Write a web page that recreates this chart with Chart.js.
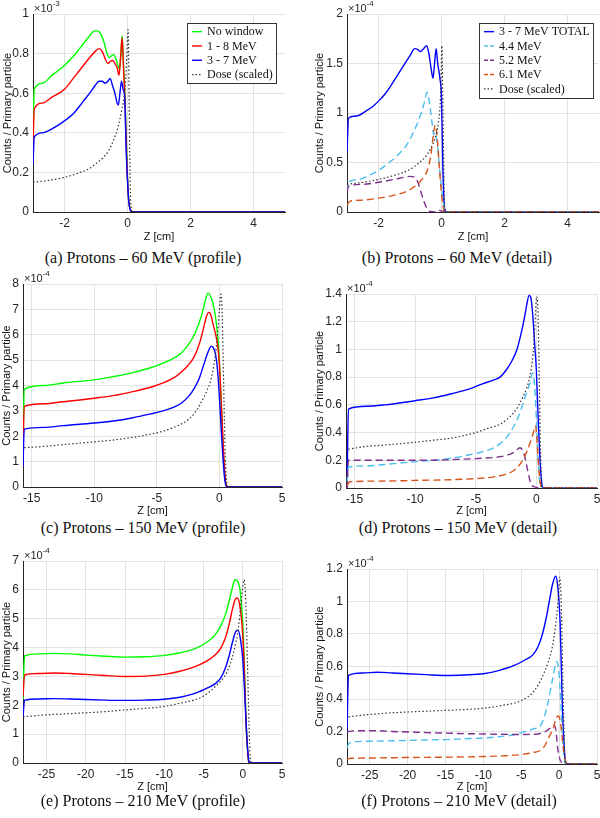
<!DOCTYPE html>
<html><head><meta charset="utf-8">
<script src="https://cdn.jsdelivr.net/npm/chart.js@4.4.1/dist/chart.umd.min.js"></script>
<style>
html,body{margin:0;padding:0;background:#fff;}
body{width:600px;height:818px;position:relative;overflow:hidden;}
canvas{position:absolute;}
.cap{position:absolute;font-family:'Liberation Serif','Times New Roman',serif;font-size:16px;color:#111;white-space:nowrap;transform:translate(-50%,-50%);}
</style></head><body>
<canvas id="ca"></canvas><canvas id="cb"></canvas>
<canvas id="cc"></canvas><canvas id="cd"></canvas>
<canvas id="ce"></canvas><canvas id="cf"></canvas>
<div class="cap" id="cap0" style="left:143px;top:258px"></div>
<div class="cap" id="cap1" style="left:457px;top:258px"></div>
<div class="cap" id="cap2" style="left:143px;top:528px"></div>
<div class="cap" id="cap3" style="left:458px;top:528px"></div>
<div class="cap" id="cap4" style="left:143px;top:801px"></div>
<div class="cap" id="cap5" style="left:459px;top:801px"></div>
<script>
// ---------- labels ----------
const profileLabels = ['No window', '1 - 8 MeV', '3 - 7 MeV', 'Dose (scaled)'];
const detailLabels = ['3 - 7 MeV TOTAL', '4.4 MeV', '5.2 MeV', '6.1 MeV', 'Dose (scaled)'];
const captions = ['(a) Protons – 60 MeV (profile)','(b) Protons – 60 MeV (detail)','(c) Protons – 150 MeV (profile)','(d) Protons – 150 MeV (detail)','(e) Protons – 210 MeV (profile)','(f) Protons – 210 MeV (detail)'];

// ---------- tick values ----------
const xTicks60 = [-2, 0, 2, 4];
const xTicks150 = [-15, -10, -5, 0, 5];
const xTicks210 = [-25, -20, -15, -10, -5, 0, 5];
const yTicksA = [0, 0.2, 0.4, 0.6, 0.8, 1];
const yTicksB = [0, 0.5, 1, 1.5, 2];
const yTicksC = [0, 1, 2, 3, 4, 5, 6, 7, 8];
const yTicksD = [0, 0.2, 0.4, 0.6, 0.8, 1, 1.2, 1.4];
const yTicksE = [0, 1, 2, 3, 4, 5, 6, 7];
const yTicksF = [0, 0.2, 0.4, 0.6, 0.8, 1, 1.2];

// ---------- (a) 60 MeV profile, x1e-3 ----------
const a_noWindow = [[-3,0.38],[-2.96,0.62],[-2.7,0.65],[-2.4,0.69],[-2,0.74],[-1.7,0.79],[-1.4,0.85],[-1.2,0.89],[-1.05,0.915],[-0.95,0.915],[-0.85,0.9],[-0.75,0.86],[-0.65,0.8],[-0.58,0.78],[-0.5,0.79],[-0.43,0.795],[-0.36,0.77],[-0.3,0.74],[-0.25,0.72],[-0.21,0.8],[-0.17,0.89],[-0.13,0.76],[-0.08,0.58],[-0.03,0.32],[0.02,0.1],[0.06,0.03],[0.12,0.005],[0.2,0],[5,0]];
const a_1to8 = [[-3,0.33],[-2.96,0.52],[-2.7,0.55],[-2.4,0.58],[-2,0.62],[-1.7,0.68],[-1.4,0.74],[-1.2,0.78],[-1.0,0.815],[-0.9,0.825],[-0.8,0.81],[-0.7,0.77],[-0.62,0.75],[-0.55,0.76],[-0.47,0.765],[-0.4,0.75],[-0.33,0.73],[-0.27,0.69],[-0.22,0.78],[-0.17,0.88],[-0.13,0.74],[-0.08,0.56],[-0.03,0.3],[0.02,0.1],[0.06,0.03],[0.12,0.005],[0.2,0],[5,0]];
const a_3to7 = [[-3,0.24],[-2.96,0.38],[-2.7,0.4],[-2.4,0.42],[-2,0.46],[-1.7,0.5],[-1.4,0.56],[-1.2,0.6],[-1.0,0.645],[-0.9,0.66],[-0.8,0.66],[-0.72,0.65],[-0.62,0.66],[-0.55,0.675],[-0.48,0.64],[-0.4,0.6],[-0.33,0.55],[-0.29,0.54],[-0.24,0.6],[-0.19,0.66],[-0.14,0.62],[-0.09,0.58],[-0.04,0.3],[0.02,0.1],[0.05,0.04],[0.1,0.005],[0.15,0],[5,0]];
const a_dose = [[-3,0.15],[-2.5,0.16],[-2,0.175],[-1.5,0.2],[-1.2,0.22],[-1.0,0.245],[-0.8,0.27],[-0.6,0.31],[-0.45,0.36],[-0.3,0.43],[-0.19,0.51],[-0.08,0.62],[-0.03,0.75],[0.0,0.88],[0.02,0.92],[0.05,0.6],[0.08,0.2],[0.11,0.03],[0.15,0],[5,0]];

// ---------- (b) 60 MeV detail, x1e-4 ----------
const b_total = [[-3,0.6],[-2.95,0.95],[-2.7,0.97],[-2.4,1.02],[-2.2,1.06],[-2,1.12],[-1.8,1.19],[-1.6,1.28],[-1.4,1.38],[-1.2,1.48],[-1.0,1.58],[-0.85,1.65],[-0.75,1.64],[-0.67,1.62],[-0.57,1.65],[-0.47,1.68],[-0.4,1.6],[-0.33,1.45],[-0.27,1.35],[-0.22,1.5],[-0.17,1.65],[-0.12,1.5],[-0.05,1.35],[0,1.15],[0.04,0.5],[0.08,0.1],[0.12,0.01],[0.2,0],[5,0]];
const b_44 = [[-3,0.2],[-2.95,0.3],[-2.6,0.33],[-2.3,0.37],[-2,0.42],[-1.7,0.49],[-1.4,0.57],[-1.1,0.68],[-0.9,0.8],[-0.7,0.95],[-0.55,1.1],[-0.46,1.21],[-0.38,1.1],[-0.3,0.9],[-0.25,0.78],[-0.2,0.8],[-0.12,0.65],[-0.05,0.4],[0.02,0.2],[0.08,0.05],[0.13,0],[5,0]];
const b_52 = [[-3,0.2],[-2.95,0.26],[-2.5,0.28],[-2,0.3],[-1.5,0.33],[-1.2,0.35],[-1.0,0.36],[-0.85,0.35],[-0.75,0.3],[-0.65,0.2],[-0.55,0.1],[-0.45,0.03],[-0.35,0.005],[-0.2,0.0],[-0.1,0.02],[0,0.01],[0.1,0],[5,0]];
const b_61 = [[-3,0.07],[-2.9,0.11],[-2.5,0.12],[-2,0.14],[-1.5,0.17],[-1.1,0.21],[-0.8,0.27],[-0.7,0.3],[-0.55,0.36],[-0.45,0.42],[-0.35,0.55],[-0.27,0.75],[-0.2,0.88],[-0.15,0.8],[-0.08,0.5],[-0.02,0.25],[0.04,0.08],[0.1,0],[5,0]];
const b_dose = [[-3,0.28],[-2.5,0.3],[-2,0.33],[-1.5,0.37],[-1.0,0.43],[-0.7,0.5],[-0.5,0.56],[-0.35,0.64],[-0.2,0.75],[-0.1,0.9],[-0.04,1.1],[-0.01,1.4],[0.01,1.68],[0.04,1.2],[0.07,0.5],[0.1,0.05],[0.14,0],[5,0]];

// ---------- (c) 150 MeV profile, x1e-4 ----------
const c_noWindow = [[-15.7,1.5],[-15.6,3.86],[-14,4.0],[-12.5,4.1],[-10,4.22],[-8.5,4.35],[-7,4.5],[-5.5,4.7],[-4.5,4.88],[-3.5,5.12],[-3,5.3],[-2.5,5.6],[-2,6.0],[-1.6,6.5],[-1.3,7.0],[-1.05,7.5],[-0.9,7.65],[-0.75,7.55],[-0.45,7.1],[-0.2,6.25],[-0.05,5.4],[0.1,3.8],[0.25,2.0],[0.4,0.6],[0.55,0.05],[0.65,0],[5,0]];
const c_1to8 = [[-15.7,1.5],[-15.6,3.18],[-14,3.28],[-12.5,3.36],[-10,3.5],[-8.5,3.6],[-7,3.75],[-5.5,3.93],[-4.5,4.1],[-3.5,4.35],[-3,4.55],[-2.5,4.8],[-2,5.15],[-1.6,5.65],[-1.3,6.2],[-1.05,6.7],[-0.85,6.88],[-0.7,6.8],[-0.5,6.4],[-0.3,6.0],[-0.15,5.6],[0,4.8],[0.15,3.3],[0.3,1.7],[0.45,0.4],[0.6,0.02],[0.7,0],[5,0]];
const c_3to7 = [[-15.7,0.8],[-15.6,2.28],[-14,2.35],[-12.5,2.42],[-10,2.52],[-8.5,2.6],[-7,2.72],[-5.5,2.88],[-4.5,3.0],[-3.5,3.18],[-3,3.32],[-2.5,3.55],[-2,3.9],[-1.6,4.3],[-1.3,4.75],[-1.0,5.2],[-0.8,5.45],[-0.65,5.55],[-0.5,5.5],[-0.3,5.2],[-0.15,4.6],[0,3.5],[0.15,2.2],[0.3,1.0],[0.45,0.2],[0.6,0],[5,0]];
const c_dose = [[-15.6,1.55],[-14,1.6],[-12.5,1.67],[-10,1.78],[-8.5,1.85],[-7,1.95],[-5.5,2.08],[-4.5,2.2],[-3.5,2.38],[-2.5,2.65],[-2,2.9],[-1.5,3.3],[-1.0,3.8],[-0.7,4.2],[-0.3,5.3],[-0.1,6.3],[0.05,7.3],[0.12,7.6],[0.2,7.1],[0.3,5.0],[0.4,2.5],[0.5,0.8],[0.6,0.1],[0.7,0],[5,0]];

// ---------- (d) 150 MeV detail, x1e-4 ----------
const d_total = [[-15.6,0.1],[-15.5,0.57],[-14,0.59],[-12.5,0.6],[-10,0.63],[-8.5,0.65],[-7,0.68],[-5.5,0.715],[-4.5,0.75],[-3.5,0.78],[-3,0.8],[-2.5,0.85],[-2,0.92],[-1.6,1.0],[-1.3,1.1],[-1.0,1.22],[-0.8,1.32],[-0.6,1.39],[-0.45,1.37],[-0.3,1.25],[-0.15,1.05],[0,0.85],[0.15,0.5],[0.3,0.2],[0.45,0.03],[0.55,0],[5,0]];
const d_44 = [[-15.6,0.05],[-15.5,0.15],[-14,0.16],[-12.5,0.17],[-10,0.19],[-8.5,0.2],[-7,0.215],[-5.5,0.24],[-4.5,0.26],[-3.5,0.29],[-3,0.32],[-2.5,0.36],[-1.9,0.44],[-1.5,0.51],[-1.1,0.61],[-0.8,0.69],[-0.55,0.75],[-0.3,0.83],[-0.15,0.75],[0,0.5],[0.1,0.3],[0.2,0.12],[0.3,0.03],[0.4,0],[5,0]];
const d_52 = [[-15.6,0.0],[-15.5,0.2],[-12.5,0.2],[-10,0.2],[-8.5,0.2],[-7,0.205],[-5.5,0.21],[-4.5,0.215],[-3.5,0.22],[-2.5,0.235],[-1.8,0.26],[-1.35,0.29],[-1.0,0.24],[-0.7,0.12],[-0.45,0.03],[-0.2,0.01],[0,0.005],[0.2,0],[5,0]];
const d_61 = [[-15.6,0.02],[-15.4,0.045],[-12.5,0.05],[-10,0.055],[-7,0.06],[-5,0.068],[-3.5,0.08],[-2.5,0.1],[-1.8,0.13],[-1.2,0.19],[-0.8,0.26],[-0.5,0.33],[-0.25,0.4],[-0.08,0.45],[0.05,0.35],[0.15,0.2],[0.3,0.05],[0.45,0],[5,0]];
const d_dose = [[-15.5,0.28],[-14,0.3],[-12.5,0.31],[-10,0.33],[-8.5,0.345],[-7,0.36],[-5,0.4],[-4,0.43],[-3,0.46],[-2.5,0.49],[-1.9,0.54],[-1.5,0.59],[-1.1,0.66],[-0.8,0.72],[-0.55,0.8],[-0.27,0.97],[-0.1,1.2],[0.02,1.38],[0.12,1.3],[0.22,0.9],[0.32,0.35],[0.42,0.05],[0.5,0],[5,0]];

// ---------- (e) 210 MeV profile, x1e-4 ----------
const e_noWindow = [[-28,2.2],[-27.8,3.7],[-26,3.78],[-24,3.8],[-22,3.78],[-20,3.74],[-17.5,3.7],[-15,3.67],[-12.5,3.68],[-10,3.73],[-8,3.82],[-6,3.97],[-4.5,4.2],[-3.5,4.45],[-2.8,4.75],[-2.2,5.15],[-1.7,5.65],[-1.3,6.1],[-1.0,6.35],[-0.7,6.3],[-0.35,6.0],[0.1,4.3],[0.4,1.6],[0.6,0.5],[0.75,0.05],[0.9,0],[5,0]];
const e_1to8 = [[-28,2.3],[-27.8,3.05],[-26,3.1],[-24,3.12],[-22,3.1],[-20,3.07],[-17.5,3.03],[-15,3.0],[-12.5,3.01],[-10,3.07],[-8,3.18],[-6,3.35],[-4.5,3.55],[-3.5,3.75],[-2.8,3.98],[-2.2,4.35],[-1.7,4.85],[-1.3,5.35],[-0.9,5.7],[-0.7,5.72],[-0.4,5.5],[-0.1,4.8],[0.15,3.6],[0.4,1.5],[0.6,0.5],[0.75,0.05],[0.9,0],[5,0]];
const e_3to7 = [[-28,1.6],[-27.8,2.18],[-26,2.22],[-24,2.23],[-22,2.22],[-20,2.2],[-17.5,2.18],[-15,2.17],[-12.5,2.18],[-10,2.21],[-8,2.28],[-6,2.42],[-4.5,2.6],[-3.5,2.75],[-2.8,2.95],[-2.2,3.3],[-1.7,3.75],[-1.3,4.2],[-0.9,4.55],[-0.6,4.6],[-0.3,4.3],[0,3.6],[0.25,2.4],[0.5,1.0],[0.7,0.2],[0.85,0.02],[1.0,0],[5,0]];
const e_dose = [[-28,1.6],[-25,1.67],[-22,1.71],[-20,1.74],[-17.5,1.78],[-15,1.84],[-12.5,1.89],[-10,1.96],[-8,2.07],[-6,2.2],[-5,2.32],[-3.5,2.65],[-2,3.16],[-1.2,3.8],[-0.55,4.7],[0,6.1],[0.17,6.35],[0.4,5.5],[0.6,3.5],[0.8,1.3],[0.95,0.2],[1.1,0],[5,0]];

// ---------- (f) 210 MeV detail, x1e-4 ----------
const f_total = [[-28,0.2],[-27.8,0.545],[-26,0.56],[-24,0.565],[-22,0.56],[-20,0.555],[-17.5,0.55],[-15,0.545],[-12.5,0.548],[-10,0.555],[-8,0.575],[-6,0.605],[-4.5,0.64],[-3.5,0.67],[-2.8,0.72],[-2.2,0.8],[-1.7,0.9],[-1.3,1.0],[-0.9,1.1],[-0.45,1.155],[-0.2,1.1],[0.13,0.87],[0.43,0.35],[0.74,0.05],[0.9,0],[5,0]];
const f_44 = [[-28,0.1],[-27.7,0.13],[-25,0.14],[-22,0.143],[-20,0.145],[-17.5,0.148],[-15,0.15],[-12.5,0.155],[-10,0.16],[-8,0.168],[-6,0.18],[-4.5,0.2],[-3.5,0.215],[-2.4,0.24],[-1.9,0.3],[-1.5,0.37],[-0.87,0.52],[-0.3,0.63],[0,0.55],[0.25,0.35],[0.5,0.12],[0.7,0.02],[0.9,0],[5,0]];
const f_52 = [[-28,0.2],[-26,0.205],[-24,0.205],[-22,0.2],[-20,0.197],[-17.5,0.193],[-15,0.19],[-12.5,0.187],[-10,0.185],[-8,0.183],[-6,0.182],[-4.5,0.182],[-3.5,0.183],[-2.5,0.188],[-1.8,0.2],[-1.2,0.22],[-0.65,0.24],[-0.4,0.2],[-0.2,0.1],[0.1,0.03],[0.4,0.005],[0.6,0],[5,0]];
const f_61 = [[-28,0.03],[-27.5,0.035],[-25,0.037],[-20,0.04],[-15,0.042],[-10,0.046],[-7.5,0.05],[-5,0.058],[-3.5,0.07],[-2.4,0.086],[-1.8,0.12],[-1.3,0.17],[-0.7,0.23],[-0.43,0.28],[-0.1,0.295],[0.2,0.25],[0.5,0.12],[0.8,0.03],[1.1,0],[5,0]];
const f_dose = [[-27.8,0.29],[-25,0.305],[-22,0.315],[-20,0.32],[-17.5,0.325],[-15,0.33],[-12.5,0.335],[-10,0.343],[-7.6,0.36],[-5,0.39],[-3.3,0.45],[-2,0.56],[-0.9,0.72],[-0.5,0.84],[-0.2,0.97],[0,1.1],[0.1,1.15],[0.3,0.95],[0.5,0.5],[0.7,0.12],[0.85,0],[5,0]];

// ---------- styles ----------
const SANS = "'Liberation Sans', Arial, Helvetica, sans-serif";
const SERIF = "'Liberation Serif', 'Times New Roman', serif";
const profileStyles = [
  {color:'#00ff00', dash:[], width:1.4},
  {color:'#ff0000', dash:[], width:1.4},
  {color:'#0000ff', dash:[], width:1.4},
  {color:'#333333', dash:[1.5,2.2], width:1.2}
];
const detailStyles = [
  {color:'#0000ff', dash:[], width:1.4},
  {color:'#4DBEEE', dash:[7,4], width:1.4},
  {color:'#7E2F8E', dash:[7,4], width:1.4},
  {color:'#D95319', dash:[7,4], width:1.4},
  {color:'#333333', dash:[1.5,2.2], width:1.2}
];

captions.forEach((t, i) => { document.getElementById('cap' + i).textContent = t; });

const legendBox = {
  id: 'legendBox',
  afterDatasetsDraw(chart, args, opts) {
    if (!opts || !opts.show) return;
    const ctx = chart.ctx, ca = chart.chartArea;
    const ds = chart.data.datasets;
    ctx.save();
    ctx.font = '12px ' + SERIF;
    const rowH = 14.3, lineLen = 10, padX = 5, gap = 5;
    const tw = Math.max(...ds.map(d => ctx.measureText(d.label).width));
    const w = Math.round(padX + lineLen + gap + tw + 3);
    const h = Math.round(ds.length * rowH + 3);
    const x0 = Math.round(ca.right - opts.right - w), y0 = Math.round(ca.top + opts.top);
    ctx.fillStyle = '#fff'; ctx.fillRect(x0, y0, w, h);
    ctx.strokeStyle = '#333'; ctx.lineWidth = 1; ctx.strokeRect(x0 + 0.5, y0 + 0.5, w, h);
    ds.forEach((d, i) => {
      const cy = y0 + 1.5 + rowH * (i + 0.5);
      ctx.beginPath(); ctx.setLineDash(d.borderDash && d.borderDash.length ? [4, 2] : []);
      if (d.borderDash && d.borderDash[0] < 3) ctx.setLineDash([1.5, 2]);
      ctx.strokeStyle = d.borderColor; ctx.lineWidth = d.borderWidth;
      ctx.moveTo(x0 + padX, cy); ctx.lineTo(x0 + padX + lineLen, cy); ctx.stroke();
      ctx.setLineDash([]);
      ctx.fillStyle = '#111'; ctx.textBaseline = 'middle'; ctx.textAlign = 'left';
      ctx.fillText(d.label, x0 + padX + lineLen + gap, cy + 0.5);
    });
    ctx.restore();
  }
};

const expLabel = {
  id: 'expLabel',
  afterDraw(chart, args, opts) {
    if (!opts || !opts.exp) return;
    const ctx = chart.ctx, ca = chart.chartArea;
    ctx.save();
    ctx.fillStyle = '#262626';
    ctx.textBaseline = 'alphabetic'; ctx.textAlign = 'left';
    ctx.font = '11px ' + SANS;
    const base = '\u00d710';
    ctx.fillText(base, ca.left + 1, ca.top - 2);
    const bw = ctx.measureText(base).width;
    ctx.font = '8px ' + SANS;
    ctx.fillText(opts.exp, ca.left + 1 + bw, ca.top - 8);
    ctx.restore();
  }
};

function fmt(v) { return String(+Number(v).toFixed(3)); }

function makeChart(spec) {
  const cv = document.getElementById(spec.id);
  cv.width = 300; cv.height = spec.h;
  cv.style.left = spec.cx + 'px'; cv.style.top = spec.cy + 'px';
  cv.style.width = '300px'; cv.style.height = spec.h + 'px';
  const datasets = spec.series.map((s, i) => ({
    label: spec.labels[i],
    data: s.map(p => ({x: p[0], y: p[1]})),
    borderColor: spec.styles[i].color,
    backgroundColor: spec.styles[i].color,
    borderDash: spec.styles[i].dash,
    borderWidth: spec.styles[i].width,
    pointRadius: 0,
    fill: false,
    cubicInterpolationMode: 'monotone',
    order: -i
  }));
  const yW = spec.box.l - spec.cx;
  const xH = spec.cy + spec.h - spec.box.b;
  new Chart(cv, {
    type: 'line',
    data: {datasets},
    plugins: [legendBox, expLabel],
    options: {
      responsive: false, animation: false, devicePixelRatio: 1,
      layout: {padding: {top: spec.box.t - spec.cy, right: spec.cx + 300 - spec.box.r, left: 0, bottom: 0}},
      plugins: {
        legend: {display: false}, tooltip: {enabled: false},
        legendBox: {show: !!spec.legend, right: spec.legendRight || 9, top: 9},
        expLabel: {exp: spec.exp}
      },
      scales: {
        x: {
          type: 'linear', min: spec.xMin, max: 5,
          afterBuildTicks: s => { s.ticks = spec.xTicks.map(v => ({value: v})); },
          afterFit: s => { s.height = xH; s.paddingLeft = 0; s.paddingRight = 0; },
          grid: {color: '#e2e2e2', drawTicks: false, lineWidth: 1},
          border: {color: '#262626', width: 1},
          ticks: {padding: 4, color: '#262626', font: {family: SANS, size: 12}, maxRotation: 0, autoSkip: false, callback: v => fmt(v)},
          title: {display: true, text: 'Z [cm]', color: '#111', font: {family: SANS, size: 11}, padding: {top: 0, bottom: 0}}
        },
        y: {
          type: 'linear', min: 0, max: spec.yTicks[spec.yTicks.length - 1],
          afterBuildTicks: s => { s.ticks = spec.yTicks.map(v => ({value: v})); },
          afterFit: s => { s.width = yW; s.paddingTop = 0; s.paddingBottom = 0; },
          grid: {color: '#e2e2e2', drawTicks: false, lineWidth: 1},
          border: {color: '#262626', width: 1},
          ticks: {padding: 4, color: '#262626', font: {family: SANS, size: 12}, autoSkip: false, callback: v => fmt(v)},
          title: {display: true, text: 'Counts / Primary particle', color: '#111', font: {family: SANS, size: 11}, padding: {top: spec.yTitlePad, bottom: 0}}
        }
      }
    }
  });
}

const specs = [
  {id:'ca', cx:0, cy:0, h:244, box:{l:33,r:285,t:14,b:212}, xMin:-3, xTicks:xTicks60, yTicks:yTicksA, exp:'-3', yTitlePad:1,
   series:[a_noWindow,a_1to8,a_3to7,a_dose], labels:profileLabels, styles:profileStyles, legend:true, legendRight:9},
  {id:'cb', cx:300, cy:0, h:244, box:{l:347,r:599,t:14,b:212}, xMin:-3, xTicks:xTicks60, yTicks:yTicksB, exp:'-4', yTitlePad:13,
   series:[b_total,b_44,b_52,b_61,b_dose], labels:detailLabels, styles:detailStyles, legend:true, legendRight:6},
  {id:'cc', cx:0, cy:270, h:248, box:{l:23,r:282,t:284,b:487}, xMin:-15.7, xTicks:xTicks150, yTicks:yTicksC, exp:'-4', yTitlePad:0,
   series:[c_noWindow,c_1to8,c_3to7,c_dose], labels:profileLabels, styles:profileStyles},
  {id:'cd', cx:300, cy:270, h:248, box:{l:346,r:597,t:294,b:488}, xMin:-15.7, xTicks:xTicks150, yTicks:yTicksD, exp:'-4', yTitlePad:13,
   series:[d_total,d_44,d_52,d_61,d_dose], labels:detailLabels, styles:detailStyles},
  {id:'ce', cx:0, cy:545, h:249, box:{l:23,r:282,t:561,b:763}, xMin:-28, xTicks:xTicks210, yTicks:yTicksE, exp:'-4', yTitlePad:0,
   series:[e_noWindow,e_1to8,e_3to7,e_dose], labels:profileLabels, styles:profileStyles},
  {id:'cf', cx:300, cy:545, h:249, box:{l:347,r:597,t:569,b:764}, xMin:-28, xTicks:xTicks210, yTicks:yTicksF, exp:'-4', yTitlePad:13,
   series:[f_total,f_44,f_52,f_61,f_dose], labels:detailLabels, styles:detailStyles}
];
specs.forEach(makeChart);
</script>
</body></html>
